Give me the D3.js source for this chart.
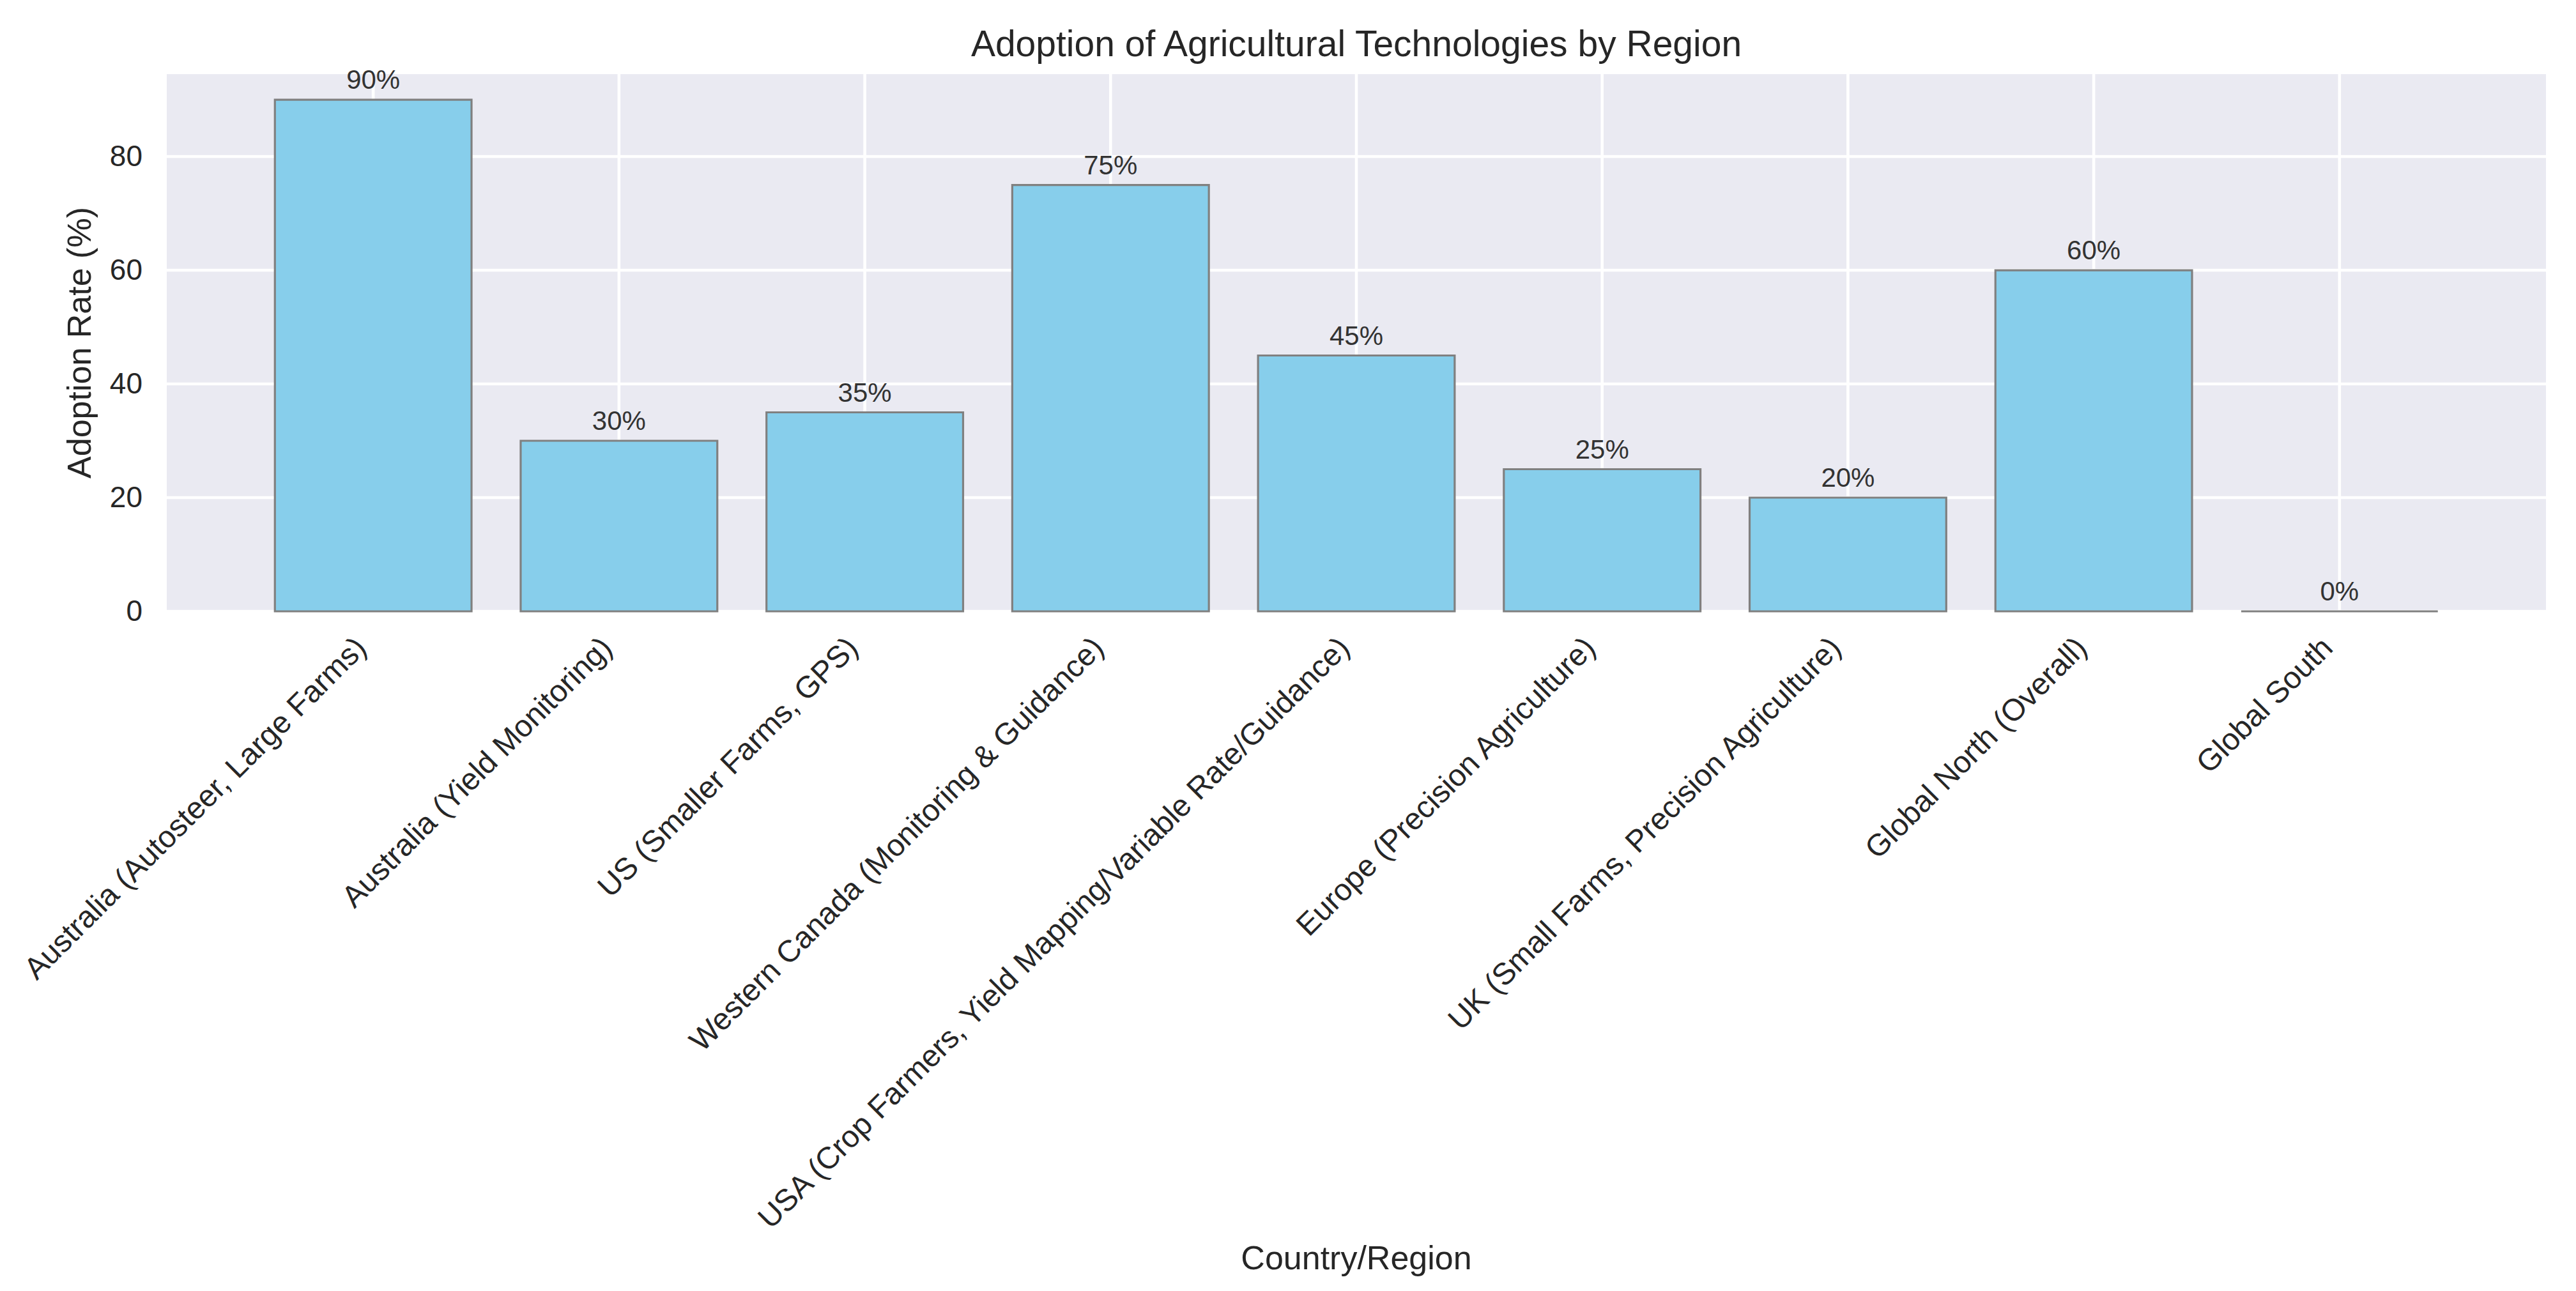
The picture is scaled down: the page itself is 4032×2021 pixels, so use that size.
<!DOCTYPE html>
<html>
<head>
<meta charset="utf-8">
<script src="https://cdn.jsdelivr.net/npm/d3@7"></script>
<style>
  body { margin: 0; background: #ffffff; }
  text { font-family: "Liberation Sans", Arial, sans-serif; fill: #262626; }
</style>
</head>
<body>
<svg id="chart"></svg>
<script>
// data
const regions = [
  "Australia (Autosteer, Large Farms)",
  "Australia (Yield Monitoring)",
  "US (Smaller Farms, GPS)",
  "Western Canada (Monitoring & Guidance)",
  "USA (Crop Farmers, Yield Mapping/Variable Rate/Guidance)",
  "Europe (Precision Agriculture)",
  "UK (Small Farms, Precision Agriculture)",
  "Global North (Overall)",
  "Global South"
];
const adoption = [90, 30, 35, 75, 45, 25, 20, 60, 0];
const yTicks = [0, 20, 40, 60, 80];

const chartTitle = "Adoption of Agricultural Technologies by Region";
const xTitle = "Country/Region";
const yTitle = "Adoption Rate (%)";

function draw_chart() {
  const W = 4032, H = 2021;
  const margin = ({top: 116, right: 47, bottom: 1064, left: 261});

  const svg = d3.select("#chart").attr("width", W).attr("height", H);
  svg.selectAll('*').remove();

  const n = regions.length;
  // matplotlib style limits: bars of width 0.8 plus 5% margin
  const x = d3.scaleLinear().domain([-0.84, n - 1 + 0.84]).range([margin.left, W - margin.right]);
  const y = d3.scaleLinear().domain([0, 94.5]).range([H - margin.bottom, margin.top]);
  const barW = x(0.8) - x(0);

  // plot background
  svg.append("rect")
    .attr("x", x.range()[0])
    .attr("y", y.range()[1])
    .attr("width", x.range()[1] - x.range()[0])
    .attr("height", y.range()[0] - y.range()[1])
    .attr("fill", "#eaeaf2");

  // grid
  svg.append("g")
    .selectAll("line")
    .data(yTicks)
    .join("line")
      .attr("x1", x.range()[0]).attr("x2", x.range()[1])
      .attr("y1", d => y(d)).attr("y2", d => y(d))
      .attr("stroke", "#ffffff").attr("stroke-width", 4.6);

  svg.append("g")
    .selectAll("line")
    .data(d3.range(n))
    .join("line")
      .attr("x1", d => x(d)).attr("x2", d => x(d))
      .attr("y1", y.range()[0]).attr("y2", y.range()[1])
      .attr("stroke", "#ffffff").attr("stroke-width", 4.6);

  // y axis (no domain line, no tick marks)
  const yAxis = g => g
    .attr("transform", `translate(${margin.left},0)`)
    .call(d3.axisLeft(y).tickValues(yTicks).tickSize(0).tickPadding(38))
    .call(g => g.select(".domain").remove());

  svg.append("g")
    .style("font-size", "46px")
    .call(yAxis)
    .selectAll("text")
      .attr("fill", "#262626")
      .style("font-family", '"Liberation Sans", Arial, sans-serif');

  // bars (paths so the empty bar still shows its edge)
  svg.append("g")
    .selectAll("path")
    .data(adoption)
    .join("path")
      .attr("d", (d, i) => {
        const x0 = x(i) - barW / 2;
        return `M${x0},${y(0)}H${x0 + barW}V${y(d)}H${x0}Z`;
      })
      .attr("fill", "#87ceeb")
      .attr("stroke", "#808080")
      .attr("stroke-width", 3.2);

  // value labels
  svg.append("g")
    .selectAll("text")
    .data(adoption)
    .join("text")
      .attr("x", (d, i) => x(i))
      .attr("y", d => y(d) - 17)
      .attr("text-anchor", "middle")
      .style("font-size", "42px")
      .style("fill", "#333333")
      .text(d => d + "%");

  // x tick labels, rotated 45 and right aligned
  svg.append("g")
    .selectAll("text")
    .data(regions)
    .join("text")
      .attr("transform", (d, i) => `translate(${x(i) - 8},${y(0) + 60}) rotate(-45)`)
      .attr("text-anchor", "end")
      .style("font-size", "48px")
      .text(d => d);

  // titles
  svg.append("text")
    .attr("x", (x.range()[0] + x.range()[1]) / 2)
    .attr("y", 88)
    .attr("text-anchor", "middle")
    .style("font-size", "57px")
    .text(chartTitle);

  svg.append("text")
    .attr("x", (x.range()[0] + x.range()[1]) / 2)
    .attr("y", 1987)
    .attr("text-anchor", "middle")
    .style("font-size", "52px")
    .text(xTitle);

  svg.append("text")
    .attr("transform", `translate(142,${(y.range()[0] + y.range()[1]) / 2}) rotate(-90)`)
    .attr("text-anchor", "middle")
    .style("font-size", "52px")
    .text(yTitle);
}

draw_chart();
</script>
</body>
</html>
